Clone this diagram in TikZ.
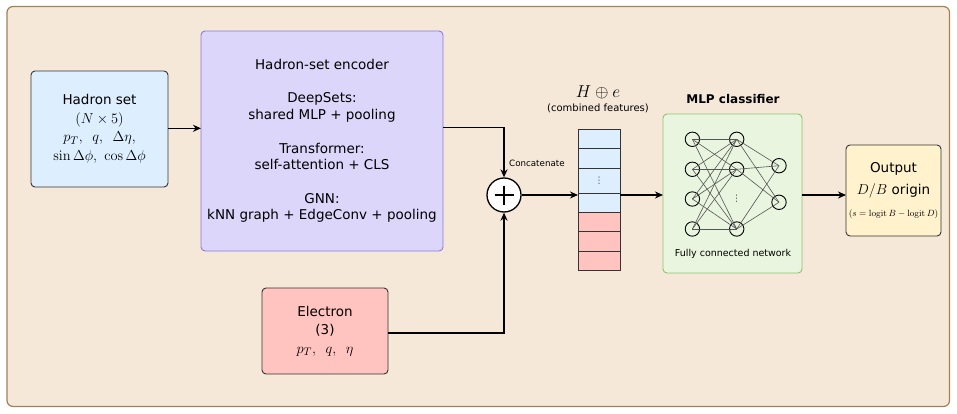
\documentclass[tikz,border=0pt]{standalone}
\usepackage[no-math]{fontspec}
\setmainfont{DejaVu Sans}
\usetikzlibrary{arrows.meta,calc}
\definecolor{bgfill}{HTML}{F5E8D8}
\definecolor{bgdraw}{HTML}{9E8258}
\definecolor{hadfill}{HTML}{DDEEFF}
\definecolor{encfill}{HTML}{DCD6FA}
\definecolor{encdraw}{HTML}{8A7AD8}
\definecolor{elefill}{HTML}{FFC4C0}
\definecolor{mlpfill}{HTML}{EAF5E0}
\definecolor{mlpdraw}{HTML}{88C46C}
\definecolor{outfill}{HTML}{FFF2CC}
\definecolor{boxdraw}{HTML}{333333}
\definecolor{edgecol}{HTML}{555555}
\newcommand\mq[1]{{\fontsize{15}{18.5}\selectfont$#1$}}
\begin{document}
\begin{tikzpicture}[x=1pt,y=-1pt,
  box/.style={draw=boxdraw,line width=0.9pt,rounded corners=4pt,align=center,inner sep=0pt,outer sep=0pt},
  txt/.style={font=\fontsize{13.5}{18.5}\selectfont},
  arr/.style={-{Stealth[length=8pt,width=7pt]},line width=1.4pt},
  cell/.style={draw=boxdraw,line width=0.8pt,minimum width=42pt,inner sep=0pt,outer sep=0pt},
  neu/.style={circle,draw=black,line width=0.9pt,minimum size=14.4pt,inner sep=0pt},
  edge/.style={draw=edgecol,line width=0.6pt},
  vdt/.style={font=\fontsize{9}{9}\selectfont,text=black!75,inner sep=0pt}]
\useasboundingbox (0,0) rectangle (957,414);
\draw[fill=bgfill,draw=bgdraw,line width=1.2pt,rounded corners=6pt] (7,6.5) rectangle (949.5,406.5);

% hadron set
\node[box,txt,fill=hadfill,minimum width=137pt,minimum height=116pt] (had) at (99.5,129)
  {Hadron set\\ \mq{(N\times 5)}\\ \mq{p_T,\,\ q,\,\ \Delta\eta,}\\ \mq{\sin\Delta\phi,\ \cos\Delta\phi}};

% encoder
\node[box,draw=encdraw,fill=encfill,minimum width=242pt,minimum height=220pt,
  font=\fontsize{13.5}{16.7}\selectfont] (enc) at (322,141)
  {Hadron-set encoder\\[16.7pt] DeepSets:\\ shared MLP + pooling\\[16.7pt] Transformer:\\ self-attention + CLS\\[16.7pt] GNN:\\ kNN graph + EdgeConv + pooling};

% electron
\node[box,txt,fill=elefill,minimum width=126pt,minimum height=86pt] (ele) at (325,331)
  {Electron\\ (3)\\ \mq{p_T,\,\ q,\,\ \eta}};

% plus
\node[circle,draw=black,fill=white,line width=1.3pt,minimum size=34pt,inner sep=0pt] (plus) at (504,195) {};
\draw[line width=2pt] ($(plus.center)+(-9.5,0)$) -- ($(plus.center)+(9.5,0)$)
  ($(plus.center)+(0,-9.5)$) -- ($(plus.center)+(0,9.5)$);

% column
\node[cell,fill=hadfill,minimum height=19.5pt] (c1) at (599,138.75) {};
\node[cell,fill=hadfill,minimum height=19.5pt] (c2) at (599,158.25) {};
\node[cell,fill=hadfill,minimum height=25pt] (c3) at (599,180.5) {};
\node[cell,fill=hadfill,minimum height=19pt] (c4) at (599,202.5) {};
\node[cell,fill=elefill,minimum height=19pt] (c5) at (599,221.5) {};
\node[cell,fill=elefill,minimum height=20pt] (c6) at (599,241) {};
\node[cell,fill=elefill,minimum height=19pt] (c7) at (599,260.5) {};
\node[vdt] (cdots) at (599,180.5) {⋮};
\node[font=\fontsize{16.5}{16.5}\selectfont,inner sep=0pt] (hlab) at (598,92.7) {$H\oplus e$};
\node[font=\fontsize{10}{10}\selectfont,inner sep=0pt] (clab) at (598,108.3) {(combined features)};
\node[font=\fontsize{8.7}{8.7}\selectfont,inner sep=0pt,anchor=west] (concat) at (509,163.3) {Concatenate};

% MLP
\node[box,draw=mlpdraw,fill=mlpfill,minimum width=139pt,minimum height=159pt] (mlp) at (732.5,193.5) {};
\node[font=\fontsize{12}{12}\selectfont\bfseries,inner sep=0pt] (mlab) at (733,99) {MLP classifier};
\node[font=\fontsize{9.5}{9.5}\selectfont,inner sep=0pt] (flab) at (733,254) {Fully connected network};
\node[neu] (a1) at (692.4,139.3) {};
\node[neu] (a2) at (692.4,169.3) {};
\node[neu] (a3) at (692.4,199) {};
\node[neu] (a4) at (692.4,229) {};
\node[neu] (b1) at (736.7,139.3) {};
\node[neu] (b2) at (736.7,169.3) {};
\node[neu] (b3) at (736.7,229) {};
\node[vdt] (ndots) at (736.7,199) {⋮};
\node[neu] (o1) at (779,165.7) {};
\node[neu] (o2) at (779,202.3) {};
\foreach \i in {a1,a2,a3,a4} \foreach \j in {b1,b2,b3} \draw[edge] (\i.center) -- (\j.center);
\foreach \i in {b1,b2,b3} \foreach \j in {o1,o2} \draw[edge] (\i.center) -- (\j.center);

% output
\node[box,fill=outfill,minimum width=95pt,minimum height=91pt] (out) at (893.5,190.5) {};
\node[font=\fontsize{13.5}{13.5}\selectfont,inner sep=0pt] (olab1) at (893.5,169.3) {Output};
\node[font=\fontsize{13.5}{13.5}\selectfont,inner sep=0pt] (olab2) at (893.5,191) {\mq{D/B} origin};
\node[font=\fontsize{9}{9}\selectfont,inner sep=0pt] (olab3) at (893.5,214.5) {$(s=\mathrm{logit}\,B-\mathrm{logit}\,D)$};

% arrows
\draw[arr] (had.east |- 0,128.3) -- (enc.west |- 0,128.3);
\draw[arr] (enc.east |- 0,127.5) -| (plus.north);
\draw[arr] (ele.east |- 0,333) -| (plus.south);
\draw[arr] (plus.east) -- (plus.east -| c1.west);
\draw[arr] (c4.east |- plus.east) -- (mlp.west |- plus.east);
\draw[arr] (mlp.east |- plus.east) -- (out.west |- plus.east);
\end{tikzpicture}
\end{document}
